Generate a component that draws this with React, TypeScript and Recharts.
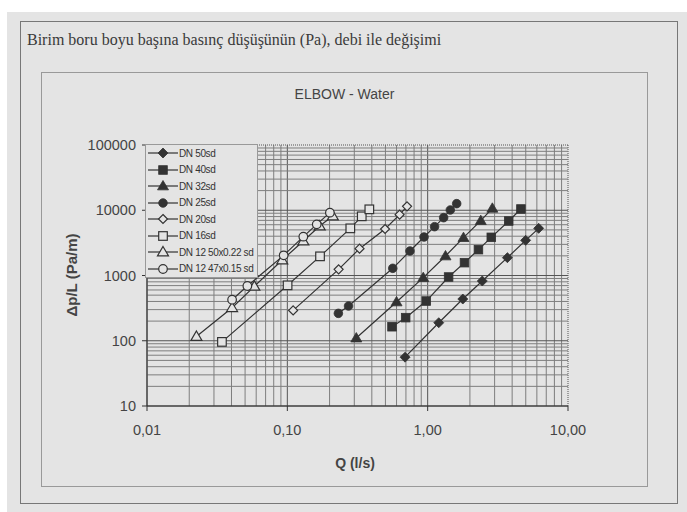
import React from 'react'
import { LineChart, Line, XAxis, YAxis, ReferenceLine } from 'recharts'

// Değerler (log-log eksenler)
const qDN50 = [0.69, 1.2, 1.78, 2.45, 3.7, 4.99, 6.18]
const dpDN50 = [56, 189, 436, 824, 1877, 3459, 5283]

const qDN40 = [0.557, 0.697, 0.977, 1.41, 1.83, 2.3, 2.84, 3.78, 4.62]
const dpDN40 = [164, 226, 406, 948, 1573, 2489, 3846, 6843, 10450]

const qDN32 = [0.31, 0.6, 0.93, 1.34, 1.8, 2.39, 2.89]
const dpDN32 = [110, 393, 926, 1990, 3800, 6920, 10700]

const qDN25 = [0.231, 0.273, 0.564, 0.748, 0.942, 1.12, 1.3, 1.45, 1.61]
const dpDN25 = [263, 341, 1288, 2373, 3890, 5600, 7700, 10090, 12620]

const qDN20 = [0.11, 0.232, 0.327, 0.497, 0.631, 0.713]
const dpDN20 = [292, 1243, 2578, 5160, 8560, 11480]

const qDN16 = [0.0342, 0.1004, 0.171, 0.281, 0.339, 0.384]
const dpDN16 = [96, 707, 1966, 5280, 8070, 10330]

const qDN12a = [0.0225, 0.0404, 0.0582, 0.092, 0.13, 0.17, 0.211]
const dpDN12a = [116, 321, 682, 1729, 3380, 5740, 8160]

const qDN12b = [0.0404, 0.0519, 0.0942, 0.13, 0.162, 0.201]
const dpDN12b = [426, 690, 2037, 3936, 6080, 9180]

const seriesNames = ['DN 50sd', 'DN 40sd', 'DN 32sd', 'DN 25sd', 'DN 20sd', 'DN 16sd', 'DN 12 50x0.22 sd', 'DN 12 47x0.15 sd']

const xTicks = [0.01, 0.1, 1, 10]
const xTickLabels = ['0,01', '0,10', '1,00', '10,00']
const yTicks = [10, 100, 1000, 10000, 100000]

const INK = '#333'
const BG = '#e4e4e4'
const FONT = '"Liberation Sans", Arial, sans-serif'

type Shape = 'diamond' | 'square' | 'triangle' | 'circle'

const series: { name: string; q: number[]; dp: number[]; shape: Shape; filled: boolean }[] = [
  { name: seriesNames[0], q: qDN50, dp: dpDN50, shape: 'diamond', filled: true },
  { name: seriesNames[1], q: qDN40, dp: dpDN40, shape: 'square', filled: true },
  { name: seriesNames[2], q: qDN32, dp: dpDN32, shape: 'triangle', filled: true },
  { name: seriesNames[3], q: qDN25, dp: dpDN25, shape: 'circle', filled: true },
  { name: seriesNames[4], q: qDN20, dp: dpDN20, shape: 'diamond', filled: false },
  { name: seriesNames[5], q: qDN16, dp: dpDN16, shape: 'square', filled: false },
  { name: seriesNames[6], q: qDN12a, dp: dpDN12a, shape: 'triangle', filled: false },
  { name: seriesNames[7], q: qDN12b, dp: dpDN12b, shape: 'circle', filled: false },
]

// log grid çizgileri
const decadeLines = (from: number, to: number) => {
  const out: number[] = []
  for (let d = from; d < to; d *= 10) {
    for (let k = 1; k < 10; k++) out.push(d * k)
  }
  out.push(to)
  return out
}
const xGrid = decadeLines(0.01, 10)
const yGrid = decadeLines(10, 100000)

const Marker = ({ cx, cy, shape, filled }: { cx: number; cy: number; shape: Shape; filled: boolean }) => {
  const fill = filled ? INK : BG
  const sw = filled ? 0.8 : 1.2
  if (shape === 'diamond') {
    const r = filled ? 5 : 4.5
    return <polygon points={`${cx},${cy - r} ${cx + r},${cy} ${cx},${cy + r} ${cx - r},${cy}`} fill={fill} stroke={INK} strokeWidth={sw} />
  }
  if (shape === 'square') {
    const r = 4.3
    return <rect x={cx - r} y={cy - r} width={r * 2} height={r * 2} fill={fill} stroke={INK} strokeWidth={sw} />
  }
  if (shape === 'triangle') {
    const r = 5.5
    return <polygon points={`${cx},${cy - r} ${cx + r},${cy + r * 0.7} ${cx - r},${cy + r * 0.7}`} fill={fill} stroke={INK} strokeWidth={sw} />
  }
  return <circle cx={cx} cy={cy} r={4.3} fill={fill} stroke={INK} strokeWidth={sw} />
}

const LegendBox = () => (
  <div style={{ background: BG, border: '1px solid #999', padding: 0, width: 113, boxSizing: 'border-box' }}>
    {series.map((s) => (
      <div key={s.name} style={{ display: 'flex', alignItems: 'center', height: 16.5 }}>
        <svg width={32} height={14} style={{ flexShrink: 0, overflow: 'visible' }}>
          <line x1={2} y1={7} x2={32} y2={7} stroke={INK} strokeWidth={1.2} />
          <Marker cx={17} cy={7} shape={s.shape} filled={s.filled} />
        </svg>
        <span style={{ fontSize: 10, letterSpacing: -0.35, color: INK, fontFamily: FONT, marginLeft: 1, whiteSpace: 'nowrap' }}>{s.name}</span>
      </div>
    ))}
  </div>
)

export default function App() {
  return (
    <div style={{ position: 'absolute', left: 0, top: 0, width: 687, height: 512, background: '#fff', overflow: 'hidden' }}>
      <div style={{ position: 'absolute', left: 7, top: 12, right: 0, bottom: 0, background: BG }} />
      <div style={{ position: 'absolute', left: 20, top: 21, width: 656, height: 481, border: '1px solid #777' }} />
      <div style={{ position: 'absolute', left: 27, top: 31, fontFamily: '"Liberation Serif", "Times New Roman", serif', fontSize: 16, color: '#3a3a3a', whiteSpace: 'nowrap' }}>
        Birim boru boyu başına basınç düşüşünün (Pa), debi ile değişimi
      </div>
      <div style={{ position: 'absolute', left: 41, top: 72, width: 607, height: 415, border: '1px solid #999', boxSizing: 'border-box' }} />
      <div style={{ position: 'absolute', left: 41, top: 86, width: 607, textAlign: 'center', fontFamily: FONT, fontSize: 14, color: '#444' }}>
        ELBOW - Water
      </div>
      <div style={{ position: 'absolute', left: 71, top: 275, transform: 'translate(-50%, -50%) rotate(-90deg)', fontFamily: FONT, fontSize: 15, fontWeight: 'bold', color: '#444', whiteSpace: 'nowrap' }}>
        Δp/L (Pa/m)
      </div>
      <div style={{ position: 'absolute', left: 355, top: 463, transform: 'translate(-50%, -50%)', fontFamily: FONT, fontSize: 14, fontWeight: 'bold', color: '#444', whiteSpace: 'nowrap' }}>
        Q (l/s)
      </div>
      <div style={{ position: 'absolute', left: 41, top: 72 }}>
        <LineChart width={607} height={415} margin={{ top: 73, right: 80, bottom: 41, left: 0 }}>
          <XAxis
            dataKey="q"
            type="number"
            scale="log"
            domain={[0.01, 10]}
            ticks={xTicks}
            allowDataOverflow
            tickFormatter={(v: number) => xTickLabels[xTicks.indexOf(v)] ?? String(v)}
            tick={{ fill: '#444', fontSize: 14.5, fontFamily: FONT }}
            tickSize={5}
            tickMargin={14}
            stroke={INK}
            height={40}
          />
          <YAxis
            dataKey="dp"
            type="number"
            scale="log"
            domain={[10, 100000]}
            ticks={yTicks}
            allowDataOverflow
            tick={{ fill: '#444', fontSize: 14.5, fontFamily: FONT }}
            tickSize={5}
            tickMargin={6}
            stroke={INK}
            width={106}
          />
          {xGrid.map((v) => (
            <ReferenceLine key={`vx${v}`} x={v} stroke={xTicks.includes(v) ? '#555' : '#7e7e7e'} strokeWidth={1}
              strokeDasharray={v === 10 ? '1 1' : undefined} />
          ))}
          {yGrid.map((v) => (
            <ReferenceLine key={`hy${v}`} y={v} stroke={yTicks.includes(v) ? '#555' : '#7e7e7e'} strokeWidth={1}
              strokeDasharray={v === 100000 ? '1 1' : undefined} />
          ))}
          {series.map((s) => (
            <Line
              key={s.name}
              name={s.name}
              data={s.q.map((q, i) => ({ q, dp: s.dp[i] }))}
              dataKey="dp"
              stroke={INK}
              strokeWidth={1.2}
              isAnimationActive={false}
              dot={(p: any) => <Marker key={`${s.name}-${p.index}`} cx={p.cx} cy={p.cy} shape={s.shape} filled={s.filled} />}
              activeDot={false}
            />
          ))}
        </LineChart>
      </div>
      <div style={{ position: 'absolute', left: 145, top: 144 }}>
        <LegendBox />
      </div>
    </div>
  )
}
